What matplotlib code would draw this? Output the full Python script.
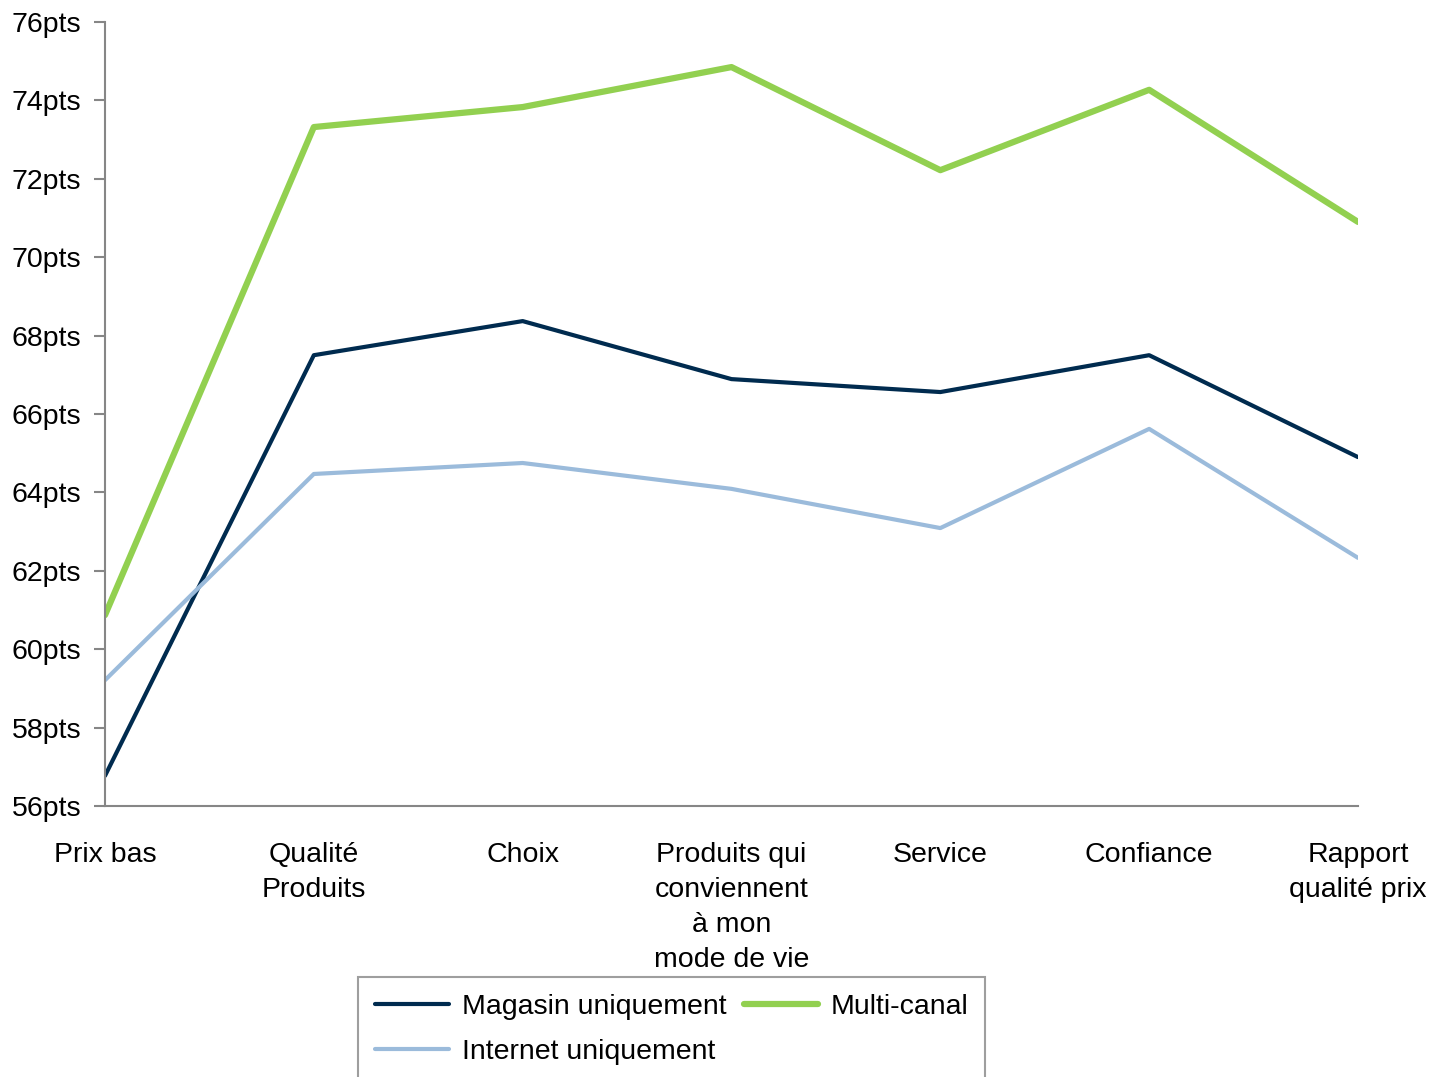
import matplotlib.pyplot as plt

plt.rcParams['font.family'] = ['Liberation Sans', 'DejaVu Sans']

categories = ["Prix bas", "Qualité\nProduits", "Choix",
              "Produits qui\nconviennent\nà mon\nmode de vie",
              "Service", "Confiance", "Rapport\nqualité prix"]
magasin = [56.77, 67.5, 68.37, 66.89, 66.56, 67.5, 64.9]
internet = [59.21, 64.47, 64.75, 64.09, 63.09, 65.62, 62.33]
multi = [60.87, 73.32, 73.83, 74.85, 72.22, 74.27, 70.9]
yticks = list(range(56, 77, 2))

fig = plt.figure(figsize=(14.31, 10.77), dpi=100)
ax = fig.add_axes([105 / 1431, 1 - 806 / 1077, (1358 - 105) / 1431, (806 - 22) / 1077])

x = range(len(categories))
l1, = ax.plot(x, magasin, color='#002B4F', lw=3.0, label="Magasin uniquement",
              solid_capstyle='round')
l2, = ax.plot(x, internet, color='#9BBBDB', lw=3.0, label="Internet uniquement",
              solid_capstyle='round')
l3, = ax.plot(x, multi, color='#92D050', lw=4.5, label="Multi-canal",
              solid_capstyle='round')

ax.set_xlim(0, len(categories) - 1)
ax.set_ylim(56, 76)
ax.set_yticks(yticks)
ax.set_yticklabels([f"{v}pts" for v in yticks])
ax.set_xticks(list(x))
ax.set_xticklabels(categories, linespacing=1.45)
ax.tick_params(axis='y', length=8, width=1.5, color='#868686', labelsize=20.5, pad=9)
ax.tick_params(axis='x', length=0, labelsize=20.5, pad=26)
for s in ['top', 'right']:
    ax.spines[s].set_visible(False)
for s in ['left', 'bottom']:
    ax.spines[s].set_color('#868686')
    ax.spines[s].set_linewidth(1.5)

leg = fig.legend(handles=[l1, l2, l3], ncol=2, loc='upper left',
                 bbox_to_anchor=(358 / 1431, 1 - 977 / 1077), borderaxespad=0,
                 fontsize=20.5, frameon=True, fancybox=False, handlelength=2.6,
                 columnspacing=0.6, handletextpad=0.45, borderpad=0.6,
                 labelspacing=0.65)
leg.get_frame().set_edgecolor('#868686')
leg.get_frame().set_linewidth(1.5)

fig.savefig("out.png", dpi=100)
